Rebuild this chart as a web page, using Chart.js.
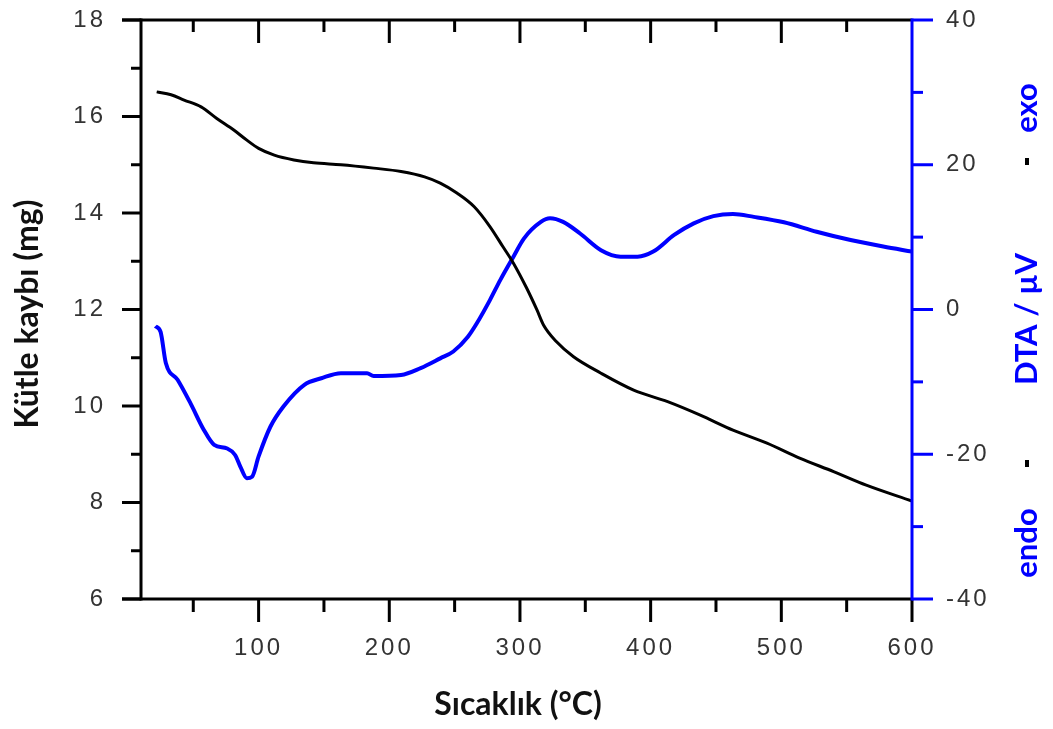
<!DOCTYPE html>
<html>
<head>
<meta charset="utf-8">
<script src="https://cdn.jsdelivr.net/npm/chart.js@4.4.1/dist/chart.umd.min.js"></script>
<style>
  html, body { margin: 0; padding: 0; background: #fff; }
</style>
</head>
<body>
<canvas id="chart" width="1053" height="729"></canvas>
<script>
// TG curve (mass, left axis)
const tgTemp = [22, 33, 43, 56, 68, 81, 91, 100, 112, 127, 142, 163, 188, 209, 227, 239, 252, 265, 277, 287,
                295, 305, 313, 318, 328, 341, 362, 387, 413, 438, 463, 489, 514, 540, 565, 600];
const tgMass = [16.51, 16.45, 16.34, 16.2, 15.96, 15.72, 15.51, 15.34, 15.2, 15.1, 15.04, 15.0, 14.93, 14.86, 14.75, 14.62, 14.41, 14.13, 13.72, 13.3,
                12.96, 12.45, 11.99, 11.68, 11.33, 11.02, 10.68, 10.33, 10.09, 9.81, 9.5, 9.23, 8.92, 8.64, 8.36, 8.03];

// DTA curve (right axis)
const dtaTemp = [21, 25, 29, 38, 48, 58, 66, 76, 82, 86, 91, 95, 100, 109, 119, 135, 148, 163, 183, 188, 209, 224, 239, 249, 260, 267,
                 277, 285, 295, 303, 316, 323, 333, 346, 362, 377, 390, 402, 418, 433, 448, 463, 479, 502, 527, 553, 578, 600];
const dtaSignal = [-2.3, -3.1, -7.4, -9.7, -13.0, -16.6, -18.7, -19.2, -20.1, -21.7, -23.3, -23.1, -20.3, -16.2, -13.4, -10.4, -9.5, -8.8, -8.8, -9.2, -9.05, -8.1, -6.75, -5.8, -3.8, -1.9,
                   1.3, 4.1, 7.3, 9.8, 12.1, 12.6, 12.1, 10.5, 8.2, 7.3, 7.3, 8.0, 10.3, 11.9, 12.9, 13.2, 12.8, 12.05, 10.75, 9.6, 8.7, 8.0];

const xTicks = [100, 200, 300, 400, 500, 600];

const tickFont = { family: 'Liberation Sans', size: 24 };
const tickColor = '#333';

function line(ctx, x1, y1, x2, y2) {
    ctx.beginPath();
    ctx.moveTo(x1, y1);
    ctx.lineTo(x2, y2);
    ctx.stroke();
}

function vText(ctx, text, x, y) {
    ctx.save();
    ctx.translate(x, y);
    ctx.rotate(-Math.PI / 2);
    ctx.fillText(text, 0, 0);
    ctx.restore();
}

function noPad(scale) {
    scale.paddingTop = 0;
    scale.paddingBottom = 0;
    scale.paddingLeft = 0;
    scale.paddingRight = 0;
}

// axis frame, ticks and titles
const frame = {
    id: 'frame',
    beforeDraw(chart) {
        chart.ctx.letterSpacing = '3px';
    },
    afterDraw(chart) {
        const ctx = chart.ctx;
        const sx = chart.scales.x, yl = chart.scales.yMass, yr = chart.scales.yDta;
        const { left: L, right: R, top: T, bottom: B } = chart.chartArea;

        ctx.save();
        ctx.letterSpacing = '0px';
        ctx.lineWidth = 3;
        ctx.strokeStyle = '#000';
        line(ctx, L - 19, T, R, T);
        line(ctx, L - 19, B, R, B);
        line(ctx, L, T - 1.5, L, B + 1.5);

        for (let v = 6; v <= 18; v++) {
            const py = yl.getPixelForValue(v);
            line(ctx, L - (v % 2 === 0 ? 19 : 10), py, L, py);
        }
        for (let v = 50; v <= 600; v += 50) {
            const px = sx.getPixelForValue(v);
            const major = v % 100 === 0;
            line(ctx, px, B, px, B + (major ? 23 : 13));
            if (v < 600) line(ctx, px, T, px, T + (major ? 23 : 12));
        }

        ctx.strokeStyle = '#0000ff';
        line(ctx, R, T - 1.5, R, B + 1.5);
        for (let v = -40; v <= 40; v += 10) {
            const py = yr.getPixelForValue(v);
            line(ctx, R, py, R + (v % 20 === 0 ? 21 : 11), py);
        }

        // titles
        ctx.textAlign = 'center';
        ctx.textBaseline = 'middle';
        ctx.font = 'bold 32px Lato';
        ctx.fillStyle = '#111';
        ctx.fillText('Sıcaklık (°C)', 518, 705);
        vText(ctx, 'Kütle kaybı (mg)', 28, 314);

        ctx.fillStyle = '#0000ff';
        ctx.font = 'bold 31px Lato';
        vText(ctx, 'DTA / µV', 1027, 319);
        vText(ctx, 'exo', 1027, 108);
        vText(ctx, 'endo', 1027, 543);

        ctx.fillStyle = '#000';
        ctx.fillRect(1025, 158, 4, 7);
        ctx.fillRect(1025, 460, 4, 7);
        ctx.restore();
    }
};

new Chart(document.getElementById('chart'), {
    type: 'line',
    data: {
        datasets: [
            {
                label: 'TG',
                data: tgTemp.map((t, i) => ({ x: t, y: tgMass[i] })),
                borderColor: '#000',
                borderWidth: 3,
                pointRadius: 0,
                cubicInterpolationMode: 'monotone',
                yAxisID: 'yMass'
            },
            {
                label: 'DTA',
                data: dtaTemp.map((t, i) => ({ x: t, y: dtaSignal[i] })),
                borderColor: '#0000ff',
                borderWidth: 4,
                pointRadius: 0,
                cubicInterpolationMode: 'monotone',
                yAxisID: 'yDta'
            }
        ]
    },
    options: {
        responsive: false,
        animation: false,
        devicePixelRatio: 1,
        layout: { padding: { top: 20, left: 0, right: 0, bottom: 0 } },
        plugins: {
            legend: { display: false },
            tooltip: { enabled: false }
        },
        scales: {
            x: {
                type: 'linear',
                min: 10,
                max: 600,
                border: { display: false },
                grid: { display: false, drawTicks: false },
                afterBuildTicks: (scale) => { scale.ticks = xTicks.map(v => ({ value: v })); },
                afterFit: (scale) => { scale.height = 130; noPad(scale); },
                ticks: { font: tickFont, color: tickColor, padding: 35, maxRotation: 0 }
            },
            yMass: {
                type: 'linear',
                position: 'left',
                min: 6,
                max: 18,
                border: { display: false },
                grid: { display: false, drawTicks: false },
                afterFit: (scale) => { scale.width = 141; noPad(scale); },
                ticks: { stepSize: 2, font: tickFont, color: tickColor, padding: 35 }
            },
            yDta: {
                type: 'linear',
                position: 'right',
                min: -40,
                max: 40,
                border: { display: false },
                grid: { display: false, drawTicks: false },
                afterFit: (scale) => { scale.width = 141; noPad(scale); },
                ticks: { stepSize: 20, font: tickFont, color: tickColor, padding: 34 }
            }
        }
    },
    plugins: [frame]
});
</script>
</body>
</html>
